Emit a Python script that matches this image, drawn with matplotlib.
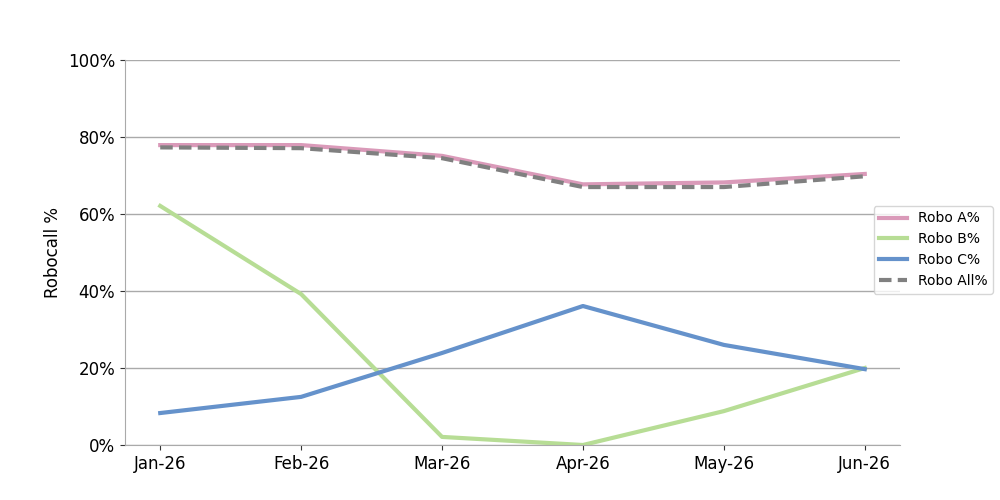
import matplotlib.pyplot as plt
from matplotlib.ticker import PercentFormatter

# data
months = ["Jan-26", "Feb-26", "Mar-26", "Apr-26", "May-26", "Jun-26"]
robo_a = [77.9, 77.9, 75.1, 67.7, 68.2, 70.4]
robo_b = [62.1, 39.2, 2.1, 0.0, 8.8, 20.0]
robo_c = [8.3, 12.5, 23.9, 36.1, 26.0, 19.7]
robo_all = [77.3, 77.1, 74.5, 67.0, 67.0, 69.8]

fig, ax = plt.subplots(figsize=(10, 5), dpi=100)
x = range(len(months))

ax.plot(x, robo_a, color="#DA9AB9", linewidth=3, label="Robo A%")
ax.plot(x, robo_b, color="#B7DD95", linewidth=3, label="Robo B%")
ax.plot(x, robo_c, color="#6592CB", linewidth=3, label="Robo C%")
ax.plot(x, robo_all, color="#808080", linewidth=3, linestyle=(0, (3, 1.5)), label="Robo All%")

ax.set_xlim(-0.25, 5.25)
ax.set_ylim(0, 100)
ax.set_xticks(list(x))
ax.set_xticklabels(months)
ax.set_yticks(range(0, 101, 20))
ax.yaxis.set_major_formatter(PercentFormatter(decimals=0))
ax.tick_params(labelsize=12, color="#333333")
ax.set_ylabel("Robocall %", fontsize=12)

ax.grid(axis="y", color="#AAAAAA", linewidth=1)
ax.set_axisbelow(True)
for s in ["top", "right"]:
    ax.spines[s].set_visible(False)
for s in ["left", "bottom"]:
    ax.spines[s].set_color("#AAAAAA")

ax.legend(loc="center left", bbox_to_anchor=(0.966, 0.507), borderaxespad=0, fontsize=10)

plt.savefig("out.png", dpi=100)
